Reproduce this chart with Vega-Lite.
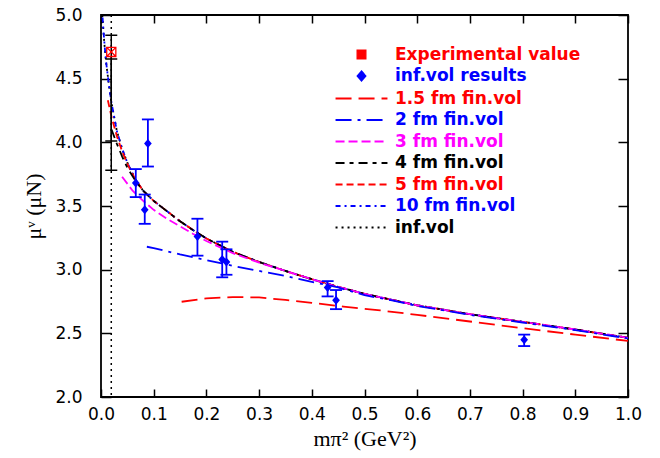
{
  "$schema": "https://vega.github.io/schema/vega-lite/v6.json",
  "width": 527,
  "height": 382,
  "autosize": {"type": "none"},
  "padding": {"left": 101, "top": 15, "right": 32, "bottom": 61},
  "background": "white",
  "config": {
    "view": {"stroke": "black", "strokeWidth": 1.8},
    "axis": {
      "domain": false,
      "grid": false,
      "tickColor": "black",
      "tickWidth": 1.5,
      "labelColor": "black",
      "labelFont": "DejaVu Sans",
      "labelFontSize": 17,
      "titleFont": "Liberation Serif",
      "titleFontSize": 22,
      "titleFontWeight": "normal",
      "titleColor": "black"
    }
  },
  "datasets": {
    "curves": [
      {"s": "inf.vol", "x": 0.0025, "y": 5.0},
      {"s": "inf.vol", "x": 0.005, "y": 4.85},
      {"s": "inf.vol", "x": 0.0075, "y": 4.72},
      {"s": "inf.vol", "x": 0.01, "y": 4.62},
      {"s": "inf.vol", "x": 0.015, "y": 4.45},
      {"s": "inf.vol", "x": 0.02, "y": 4.31},
      {"s": "inf.vol", "x": 0.03, "y": 4.09},
      {"s": "inf.vol", "x": 0.04, "y": 3.95},
      {"s": "inf.vol", "x": 0.05, "y": 3.84},
      {"s": "inf.vol", "x": 0.065, "y": 3.71},
      {"s": "inf.vol", "x": 0.08, "y": 3.62},
      {"s": "inf.vol", "x": 0.1, "y": 3.54},
      {"s": "inf.vol", "x": 0.125, "y": 3.46},
      {"s": "inf.vol", "x": 0.15, "y": 3.38},
      {"s": "inf.vol", "x": 0.175, "y": 3.31},
      {"s": "inf.vol", "x": 0.2, "y": 3.245},
      {"s": "inf.vol", "x": 0.25, "y": 3.14},
      {"s": "inf.vol", "x": 0.3, "y": 3.06},
      {"s": "inf.vol", "x": 0.35, "y": 2.99},
      {"s": "inf.vol", "x": 0.4, "y": 2.925},
      {"s": "inf.vol", "x": 0.45, "y": 2.865},
      {"s": "inf.vol", "x": 0.5, "y": 2.81},
      {"s": "inf.vol", "x": 0.55, "y": 2.765},
      {"s": "inf.vol", "x": 0.6, "y": 2.72},
      {"s": "inf.vol", "x": 0.7, "y": 2.65},
      {"s": "inf.vol", "x": 0.8, "y": 2.59},
      {"s": "inf.vol", "x": 0.9, "y": 2.53},
      {"s": "inf.vol", "x": 1.0, "y": 2.465},

      {"s": "10 fm fin.vol", "x": 0.003, "y": 4.98},
      {"s": "10 fm fin.vol", "x": 0.005, "y": 4.86},
      {"s": "10 fm fin.vol", "x": 0.0075, "y": 4.73},
      {"s": "10 fm fin.vol", "x": 0.01, "y": 4.62},
      {"s": "10 fm fin.vol", "x": 0.015, "y": 4.45},
      {"s": "10 fm fin.vol", "x": 0.02, "y": 4.31},
      {"s": "10 fm fin.vol", "x": 0.03, "y": 4.09},
      {"s": "10 fm fin.vol", "x": 0.04, "y": 3.95},
      {"s": "10 fm fin.vol", "x": 0.05, "y": 3.84},
      {"s": "10 fm fin.vol", "x": 0.065, "y": 3.71},
      {"s": "10 fm fin.vol", "x": 0.08, "y": 3.62},
      {"s": "10 fm fin.vol", "x": 0.1, "y": 3.54},
      {"s": "10 fm fin.vol", "x": 0.125, "y": 3.46},
      {"s": "10 fm fin.vol", "x": 0.15, "y": 3.38},
      {"s": "10 fm fin.vol", "x": 0.175, "y": 3.31},
      {"s": "10 fm fin.vol", "x": 0.2, "y": 3.245},
      {"s": "10 fm fin.vol", "x": 0.25, "y": 3.14},
      {"s": "10 fm fin.vol", "x": 0.3, "y": 3.06},
      {"s": "10 fm fin.vol", "x": 0.35, "y": 2.99},
      {"s": "10 fm fin.vol", "x": 0.4, "y": 2.925},
      {"s": "10 fm fin.vol", "x": 0.45, "y": 2.865},
      {"s": "10 fm fin.vol", "x": 0.5, "y": 2.81},
      {"s": "10 fm fin.vol", "x": 0.55, "y": 2.765},
      {"s": "10 fm fin.vol", "x": 0.6, "y": 2.72},
      {"s": "10 fm fin.vol", "x": 0.7, "y": 2.65},
      {"s": "10 fm fin.vol", "x": 0.8, "y": 2.59},
      {"s": "10 fm fin.vol", "x": 0.9, "y": 2.53},
      {"s": "10 fm fin.vol", "x": 1.0, "y": 2.465},

      {"s": "5 fm fin.vol", "x": 0.013, "y": 4.33},
      {"s": "5 fm fin.vol", "x": 0.02, "y": 4.2},
      {"s": "5 fm fin.vol", "x": 0.03, "y": 4.05},
      {"s": "5 fm fin.vol", "x": 0.04, "y": 3.93},
      {"s": "5 fm fin.vol", "x": 0.05, "y": 3.83},
      {"s": "5 fm fin.vol", "x": 0.065, "y": 3.71},
      {"s": "5 fm fin.vol", "x": 0.08, "y": 3.62},
      {"s": "5 fm fin.vol", "x": 0.1, "y": 3.54},
      {"s": "5 fm fin.vol", "x": 0.125, "y": 3.46},
      {"s": "5 fm fin.vol", "x": 0.15, "y": 3.38},
      {"s": "5 fm fin.vol", "x": 0.175, "y": 3.31},
      {"s": "5 fm fin.vol", "x": 0.2, "y": 3.245},
      {"s": "5 fm fin.vol", "x": 0.25, "y": 3.14},
      {"s": "5 fm fin.vol", "x": 0.3, "y": 3.06},
      {"s": "5 fm fin.vol", "x": 0.35, "y": 2.99},
      {"s": "5 fm fin.vol", "x": 0.4, "y": 2.925},
      {"s": "5 fm fin.vol", "x": 0.45, "y": 2.865},
      {"s": "5 fm fin.vol", "x": 0.5, "y": 2.81},
      {"s": "5 fm fin.vol", "x": 0.55, "y": 2.765},
      {"s": "5 fm fin.vol", "x": 0.6, "y": 2.72},
      {"s": "5 fm fin.vol", "x": 0.7, "y": 2.65},
      {"s": "5 fm fin.vol", "x": 0.8, "y": 2.59},
      {"s": "5 fm fin.vol", "x": 0.9, "y": 2.53},
      {"s": "5 fm fin.vol", "x": 1.0, "y": 2.465},

      {"s": "4 fm fin.vol", "x": 0.02, "y": 4.1},
      {"s": "4 fm fin.vol", "x": 0.03, "y": 3.99},
      {"s": "4 fm fin.vol", "x": 0.04, "y": 3.89},
      {"s": "4 fm fin.vol", "x": 0.05, "y": 3.8},
      {"s": "4 fm fin.vol", "x": 0.065, "y": 3.7},
      {"s": "4 fm fin.vol", "x": 0.08, "y": 3.62},
      {"s": "4 fm fin.vol", "x": 0.1, "y": 3.54},
      {"s": "4 fm fin.vol", "x": 0.125, "y": 3.46},
      {"s": "4 fm fin.vol", "x": 0.15, "y": 3.38},
      {"s": "4 fm fin.vol", "x": 0.175, "y": 3.31},
      {"s": "4 fm fin.vol", "x": 0.2, "y": 3.245},
      {"s": "4 fm fin.vol", "x": 0.25, "y": 3.14},
      {"s": "4 fm fin.vol", "x": 0.3, "y": 3.06},
      {"s": "4 fm fin.vol", "x": 0.35, "y": 2.99},
      {"s": "4 fm fin.vol", "x": 0.4, "y": 2.925},
      {"s": "4 fm fin.vol", "x": 0.45, "y": 2.865},
      {"s": "4 fm fin.vol", "x": 0.5, "y": 2.81},
      {"s": "4 fm fin.vol", "x": 0.55, "y": 2.765},
      {"s": "4 fm fin.vol", "x": 0.6, "y": 2.72},
      {"s": "4 fm fin.vol", "x": 0.7, "y": 2.65},
      {"s": "4 fm fin.vol", "x": 0.8, "y": 2.59},
      {"s": "4 fm fin.vol", "x": 0.9, "y": 2.53},
      {"s": "4 fm fin.vol", "x": 1.0, "y": 2.465},

      {"s": "3 fm fin.vol", "x": 0.04, "y": 3.73},
      {"s": "3 fm fin.vol", "x": 0.06, "y": 3.62},
      {"s": "3 fm fin.vol", "x": 0.08, "y": 3.54},
      {"s": "3 fm fin.vol", "x": 0.1, "y": 3.47},
      {"s": "3 fm fin.vol", "x": 0.125, "y": 3.4},
      {"s": "3 fm fin.vol", "x": 0.15, "y": 3.34},
      {"s": "3 fm fin.vol", "x": 0.175, "y": 3.28},
      {"s": "3 fm fin.vol", "x": 0.2, "y": 3.225},
      {"s": "3 fm fin.vol", "x": 0.25, "y": 3.13},
      {"s": "3 fm fin.vol", "x": 0.3, "y": 3.055},
      {"s": "3 fm fin.vol", "x": 0.35, "y": 2.99},
      {"s": "3 fm fin.vol", "x": 0.4, "y": 2.925},
      {"s": "3 fm fin.vol", "x": 0.45, "y": 2.865},
      {"s": "3 fm fin.vol", "x": 0.5, "y": 2.81},
      {"s": "3 fm fin.vol", "x": 0.55, "y": 2.765},
      {"s": "3 fm fin.vol", "x": 0.6, "y": 2.72},
      {"s": "3 fm fin.vol", "x": 0.7, "y": 2.65},
      {"s": "3 fm fin.vol", "x": 0.8, "y": 2.59},
      {"s": "3 fm fin.vol", "x": 0.9, "y": 2.53},
      {"s": "3 fm fin.vol", "x": 1.0, "y": 2.465},

      {"s": "2 fm fin.vol", "x": 0.087, "y": 3.18},
      {"s": "2 fm fin.vol", "x": 0.1, "y": 3.17},
      {"s": "2 fm fin.vol", "x": 0.15, "y": 3.12},
      {"s": "2 fm fin.vol", "x": 0.2, "y": 3.075},
      {"s": "2 fm fin.vol", "x": 0.25, "y": 3.03},
      {"s": "2 fm fin.vol", "x": 0.3, "y": 2.99},
      {"s": "2 fm fin.vol", "x": 0.35, "y": 2.95},
      {"s": "2 fm fin.vol", "x": 0.4, "y": 2.905},
      {"s": "2 fm fin.vol", "x": 0.45, "y": 2.86},
      {"s": "2 fm fin.vol", "x": 0.5, "y": 2.8},
      {"s": "2 fm fin.vol", "x": 0.55, "y": 2.76},
      {"s": "2 fm fin.vol", "x": 0.6, "y": 2.715},
      {"s": "2 fm fin.vol", "x": 0.7, "y": 2.645},
      {"s": "2 fm fin.vol", "x": 0.8, "y": 2.585},
      {"s": "2 fm fin.vol", "x": 0.9, "y": 2.525},
      {"s": "2 fm fin.vol", "x": 1.0, "y": 2.46},

      {"s": "1.5 fm fin.vol", "x": 0.153, "y": 2.748},
      {"s": "1.5 fm fin.vol", "x": 0.2, "y": 2.775},
      {"s": "1.5 fm fin.vol", "x": 0.25, "y": 2.785},
      {"s": "1.5 fm fin.vol", "x": 0.3, "y": 2.782},
      {"s": "1.5 fm fin.vol", "x": 0.35, "y": 2.762},
      {"s": "1.5 fm fin.vol", "x": 0.4, "y": 2.74},
      {"s": "1.5 fm fin.vol", "x": 0.46, "y": 2.71},
      {"s": "1.5 fm fin.vol", "x": 0.53, "y": 2.68},
      {"s": "1.5 fm fin.vol", "x": 0.6, "y": 2.645},
      {"s": "1.5 fm fin.vol", "x": 0.7, "y": 2.593},
      {"s": "1.5 fm fin.vol", "x": 0.8, "y": 2.54},
      {"s": "1.5 fm fin.vol", "x": 0.9, "y": 2.49},
      {"s": "1.5 fm fin.vol", "x": 1.0, "y": 2.44}
    ],
    "results": [
      {"s": "inf.vol results", "x": 0.066, "y": 3.68, "lo": 3.57, "hi": 3.79},
      {"s": "inf.vol results", "x": 0.083, "y": 3.47, "lo": 3.36, "hi": 3.59},
      {"s": "inf.vol results", "x": 0.089, "y": 3.99, "lo": 3.81, "hi": 4.18},
      {"s": "inf.vol results", "x": 0.183, "y": 3.26, "lo": 3.11, "hi": 3.4},
      {"s": "inf.vol results", "x": 0.23, "y": 3.08, "lo": 2.94, "hi": 3.22},
      {"s": "inf.vol results", "x": 0.238, "y": 3.06, "lo": 2.96, "hi": 3.16},
      {"s": "inf.vol results", "x": 0.43, "y": 2.86, "lo": 2.79, "hi": 2.91},
      {"s": "inf.vol results", "x": 0.446, "y": 2.76, "lo": 2.69, "hi": 2.84},
      {"s": "inf.vol results", "x": 0.803, "y": 2.45, "lo": 2.4, "hi": 2.49}
    ],
    "phys": [
      {"x": 0.0195, "lo": 3.78, "hi": 4.84},
      {"x": 0.0195, "lo": 4.01, "hi": 4.655}
    ],
    "exp": [
      {"s": "Experimental value", "x": 0.0195, "y": 4.71}
    ]
  },
  "layer": [
    {
      "data": {"name": "exp"},
      "mark": {"type": "rule", "strokeDash": [2, 4], "color": "black", "strokeWidth": 1.5},
      "encoding": {
        "x": {
          "field": "x", "type": "quantitative",
          "scale": {"domain": [0, 1], "nice": false, "zero": false},
          "axis": {"orient": "top", "values": [0, 0.1, 0.2, 0.3, 0.4, 0.5, 0.6, 0.7, 0.8, 0.9, 1.0], "labels": false, "tickSize": -8, "title": null}
        }
      }
    },
    {
      "data": {"name": "curves"},
      "mark": {"type": "line", "strokeWidth": 1.8, "clip": true},
      "encoding": {
        "x": {
          "field": "x", "type": "quantitative",
          "scale": {"domain": [0, 1], "nice": false, "zero": false},
          "axis": {"orient": "bottom", "values": [0, 0.1, 0.2, 0.3, 0.4, 0.5, 0.6, 0.7, 0.8, 0.9, 1.0], "format": ".1f", "tickSize": -8, "labelPadding": 17, "labelOverlap": false, "labelFlush": false, "title": "mπ² (GeV²)", "titlePadding": 6}
        },
        "y": {
          "field": "y", "type": "quantitative",
          "scale": {"domain": [2, 5], "nice": false, "zero": false},
          "axis": {"orient": "left", "values": [2, 2.5, 3, 3.5, 4, 4.5, 5], "format": ".1f", "tickSize": -10, "labelPadding": 29, "labelOverlap": false, "labelFlush": false, "title": "μᵛ (μN)", "titlePadding": 9}
        },
        "color": {
          "field": "s", "type": "nominal",
          "scale": {
            "domain": ["Experimental value", "inf.vol results", "1.5 fm fin.vol", "2 fm fin.vol", "3 fm fin.vol", "4 fm fin.vol", "5 fm fin.vol", "10 fm fin.vol", "inf.vol"],
            "range": ["#ff0000", "#0000ff", "#ff0000", "#0000ff", "#ff00ff", "#000000", "#ff0000", "#0000ff", "#000000"]
          },
          "legend": {
            "orient": "none",
            "legendX": 252,
            "legendY": 31,
            "title": null,
            "padding": 0,
            "symbolSize": 484,
            "symbolStrokeWidth": 2,
            "labelFont": "DejaVu Sans",
            "labelFontSize": 17,
            "labelFontWeight": "bold",
            "labelOffset": 25,
            "labelLimit": 300,
            "rowPadding": 3.5,
            "encode": {
              "symbols": {"update": {
                "fill": {"signal": "datum.value === 'inf.vol results' ? '#0000ff' : 'transparent'"},
                "strokeWidth": {"signal": "datum.value === 'Experimental value' ? 1.2 : 2"}
              }},
              "labels": {"update": {"fill": {"signal": "scale('color', datum.value)"}}}
            }
          }
        },
        "strokeDash": {
          "field": "s", "type": "nominal",
          "scale": {
            "domain": ["Experimental value", "inf.vol results", "1.5 fm fin.vol", "2 fm fin.vol", "3 fm fin.vol", "4 fm fin.vol", "5 fm fin.vol", "10 fm fin.vol", "inf.vol"],
            "range": [[1, 0], [1, 0], [16, 7], [16, 6, 3, 6], [9, 4], [9, 5, 4, 5], [7, 4], [5, 4, 2, 4], [2, 4]]
          }
        }
      }
    },
    {
      "data": {"name": "results"},
      "mark": {"type": "errorbar", "color": "#0000ff", "opacity": 1, "thickness": 1.8, "rule": {"opacity": 1, "color": "#0000ff"}, "ticks": {"size": 12, "thickness": 1.8, "opacity": 1, "color": "#0000ff"}},
      "encoding": {
        "x": {"field": "x", "type": "quantitative", "axis": null},
        "y": {"field": "lo", "type": "quantitative", "axis": null},
        "y2": {"field": "hi"}
      }
    },
    {
      "data": {"name": "phys"},
      "mark": {"type": "errorbar", "color": "#000000", "opacity": 1, "thickness": 1.5, "rule": {"opacity": 1, "color": "#000000"}, "ticks": {"size": 12, "thickness": 1.5, "opacity": 1, "color": "#000000"}},
      "encoding": {
        "x": {"field": "x", "type": "quantitative", "axis": null},
        "y": {"field": "lo", "type": "quantitative", "axis": null},
        "y2": {"field": "hi"}
      }
    },
    {
      "data": {"name": "results"},
      "mark": {"type": "point", "filled": true, "size": 484, "opacity": 1},
      "encoding": {
        "x": {"field": "x", "type": "quantitative", "axis": null},
        "y": {"field": "y", "type": "quantitative", "axis": null},
        "color": {"field": "s", "type": "nominal"},
        "shape": {
          "field": "s", "type": "nominal",
          "scale": {
            "domain": ["Experimental value", "inf.vol results", "1.5 fm fin.vol", "2 fm fin.vol", "3 fm fin.vol", "4 fm fin.vol", "5 fm fin.vol", "10 fm fin.vol", "inf.vol"],
            "range": ["M-0.4,-0.4H0.4V0.4H-0.4Z M-0.4,-0.4L0.4,0.4 M0.4,-0.4L-0.4,0.4", "M0,-0.41L0.35,0L0,0.41L-0.35,0Z", "M-2.36,0H2.36", "M-2.36,0H2.36", "M-2.36,0H2.36", "M-2.36,0H2.36", "M-2.36,0H2.36", "M-2.36,0H2.36", "M-2.36,0H2.36"]
          }
        }
      }
    },
    {
      "data": {"name": "exp"},
      "mark": {"type": "point", "filled": false, "size": 520, "strokeWidth": 1.3, "opacity": 1},
      "encoding": {
        "x": {"field": "x", "type": "quantitative", "axis": null},
        "y": {
          "field": "y", "type": "quantitative",
          "axis": {"orient": "right", "values": [2, 2.5, 3, 3.5, 4, 4.5, 5], "labels": false, "tickSize": -10, "title": null}
        },
        "color": {"field": "s", "type": "nominal"},
        "shape": {"field": "s", "type": "nominal"}
      }
    }
  ]
}
